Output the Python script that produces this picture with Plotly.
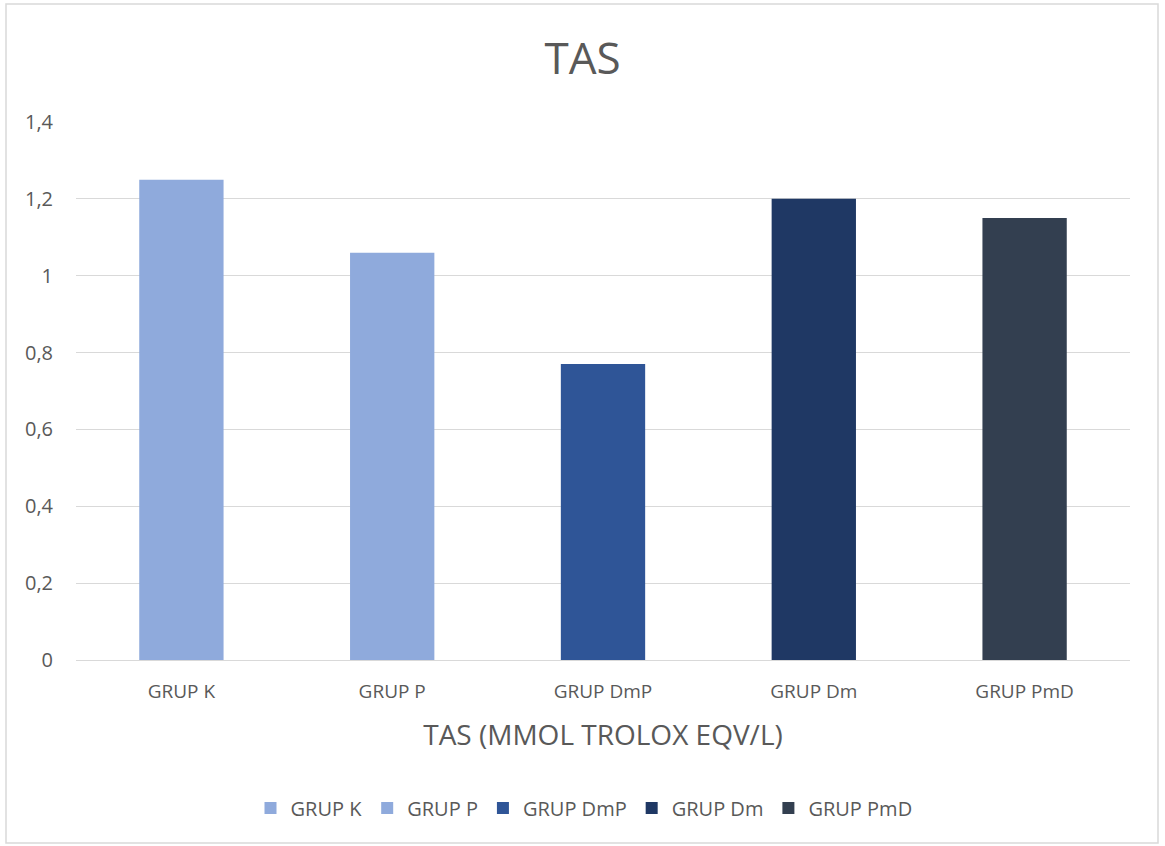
import plotly.graph_objects as go

categories = ["GRUP K", "GRUP P", "GRUP DmP", "GRUP Dm", "GRUP PmD"]
values = [1.25, 1.06, 0.77, 1.20, 1.15]
colors = ["#8FAADC", "#8FAADC", "#2F5597", "#1F3864", "#333F50"]
y_ticks = [0, 0.2, 0.4, 0.6, 0.8, 1.0, 1.2, 1.4]

W, H = 1165, 846
L, R, T, B = 76, 35, 122, 186
pw, ph = W - L - R, H - T - B

FONT = "Open Sans"
TXT = "#595959"

fig = go.Figure()
for c, v, col in zip(categories, values, colors):
    fig.add_trace(go.Bar(x=[c], y=[v], name=c, marker=dict(color=col, line=dict(width=0))))

def px_x(p):
    return (p - L) / pw

def px_y(p):
    return (H - B - p) / ph

fig.update_layout(
    width=W, height=H,
    margin=dict(l=L, r=R, t=T, b=B),
    paper_bgcolor="white", plot_bgcolor="white",
    barmode="overlay", bargap=0.6,
    separators=",.",
    font=dict(family=FONT, color=TXT, size=19),
    title=dict(text="TAS", x=0.5, xanchor="center", y=1 - 59 / H, yanchor="middle",
               font=dict(size=44, color=TXT, family=FONT)),
    xaxis=dict(categoryorder="array", categoryarray=categories, showgrid=False,
               showline=False, ticks="", tickfont=dict(size=19, color=TXT),
               ticklabelstandoff=18,
               title=dict(text="TAS (MMOL TROLOX EQV/L)", font=dict(size=28, color=TXT), standoff=22)),
    yaxis=dict(range=[0, 1.4], tickvals=y_ticks, showgrid=True, gridcolor="#D9D9D9",
               gridwidth=1, zeroline=True, zerolinecolor="#D9D9D9", zerolinewidth=1,
               showline=False, ticks="", ticklabelstandoff=22,
               tickfont=dict(size=20, color=TXT)),
    legend=dict(orientation="h", x=px_x(584), xanchor="center", y=px_y(808), yanchor="middle",
                font=dict(size=20, color=TXT), itemwidth=30, traceorder="normal"),
    shapes=[dict(type="rect", xref="paper", yref="paper",
                 x0=px_x(6), x1=px_x(1158), y0=px_y(843), y1=px_y(4),
                 line=dict(color="#D9D9D9", width=1.5), fillcolor="rgba(0,0,0,0)", layer="below")],
)

fig.write_html("out.html")
